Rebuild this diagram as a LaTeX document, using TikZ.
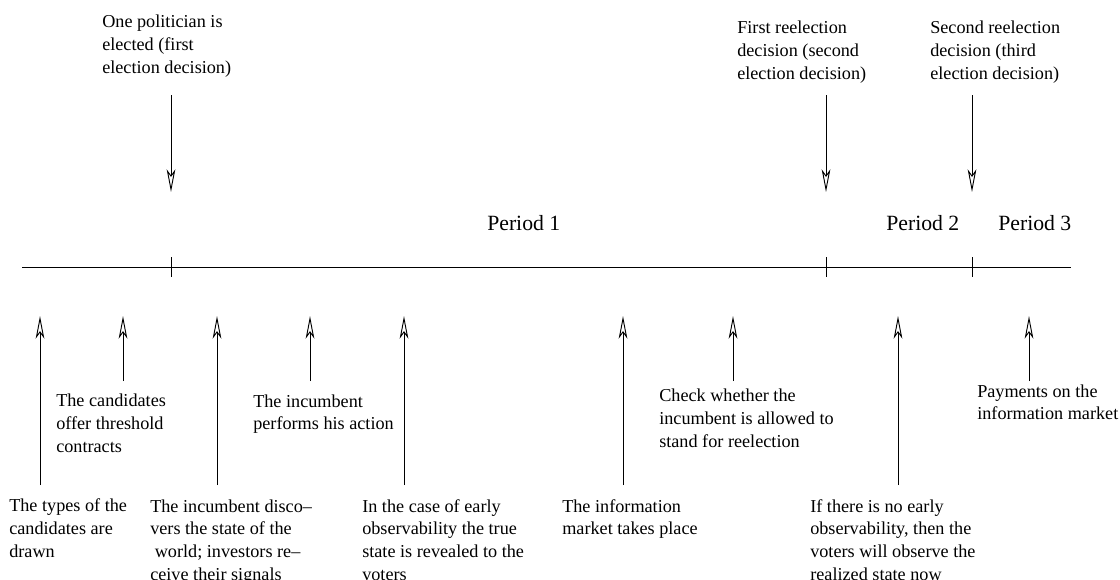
\documentclass[tikz,border=0pt]{standalone}
\usepackage{fontspec}
\setmainfont{Liberation Serif}
\usetikzlibrary{arrows.meta}
\tikzset{
  event/.style={-{Stealth[open,length=17pt,width=6.5pt,inset=4.5pt]},line width=.7pt},
  lbl/.style={anchor=base west,inner sep=0pt,align=left,font=\fontsize{13.65}{17}\selectfont},
  prd/.style={anchor=base west,inner sep=0pt,font=\fontsize{16.3}{19}\selectfont}
}
\begin{document}
\begin{tikzpicture}[x=.75pt,y=-.75pt]
  \useasboundingbox (0,0) rectangle (1120,579);
  % time line with the election dates
  \coordinate (tl0) at (22,267);
  \coordinate (tl1) at (1071,267);
  \draw[line width=.7pt] (tl0) -- (tl1);
  \foreach \x/\n in {171/a, 826/b, 972/c}
  {\coordinate (k\n0) at (\x,257);
   \coordinate (k\n1) at (\x,277);
   \draw[line width=.7pt] (k\n0) -- (k\n1);
   \coordinate (d\n0) at (\x,95);
   \coordinate (d\n1) at (\x,192);
   \draw[event] (d\n0) -- (d\n1);}
  \node[prd] (per1) at (487,230) {Period 1};
  \node[prd] (per2) at (886,230) {Period 2};
  \node[prd] (per3) at (998,230) {Period 3};
  % base of a node = base of its last line
  \node[lbl] (elect) at (102,73.3) {One politician is\\elected (first\\election decision)};
  \node[lbl] (reel1) at (737,79.3) {First reelection\\decision (second\\election decision)};
  \node[lbl] (reel2) at (930,79.3) {Second reelection\\decision (third\\election decision)};
  % events below the line
  \foreach \x/\y/\n in {40/485/a, 123/381/b, 217/485/c, 310/381/d, 404/485/e,
                        623/485/f, 733/381/g, 898/485/h, 1029/381/i}
  {\coordinate (e\n0) at (\x,\y);
   \coordinate (e\n1) at (\x,316);
   \draw[event] (e\n0) -- (e\n1);}
  \foreach \x/\y/\n/\t in {
    9/557.3/types/{The types of the\\candidates are\\drawn},
    56/452.3/offer/{The candidates\\offer threshold\\contracts},
    150/580/disc/{The incumbent disco--\\vers the state of the\\\hspace*{.25em}world; investors re--\\ceive their signals},
    253/429.7/act/{The incumbent\\performs his action},
    362/580/early/{In the case of early\\observability the true\\state is revealed to the\\voters},
    562/534.7/market/{The information\\market takes place},
    659/447.3/check/{Check whether the\\incumbent is allowed to\\stand for reelection},
    810/580/late/{If there is no early\\observability, then the\\voters will observe the\\realized state now},
    977/419.7/pay/{Payments on the\\information market}}
  {\node[lbl] (\n) at (\x,\y) {\t};}
\end{tikzpicture}
\end{document}
